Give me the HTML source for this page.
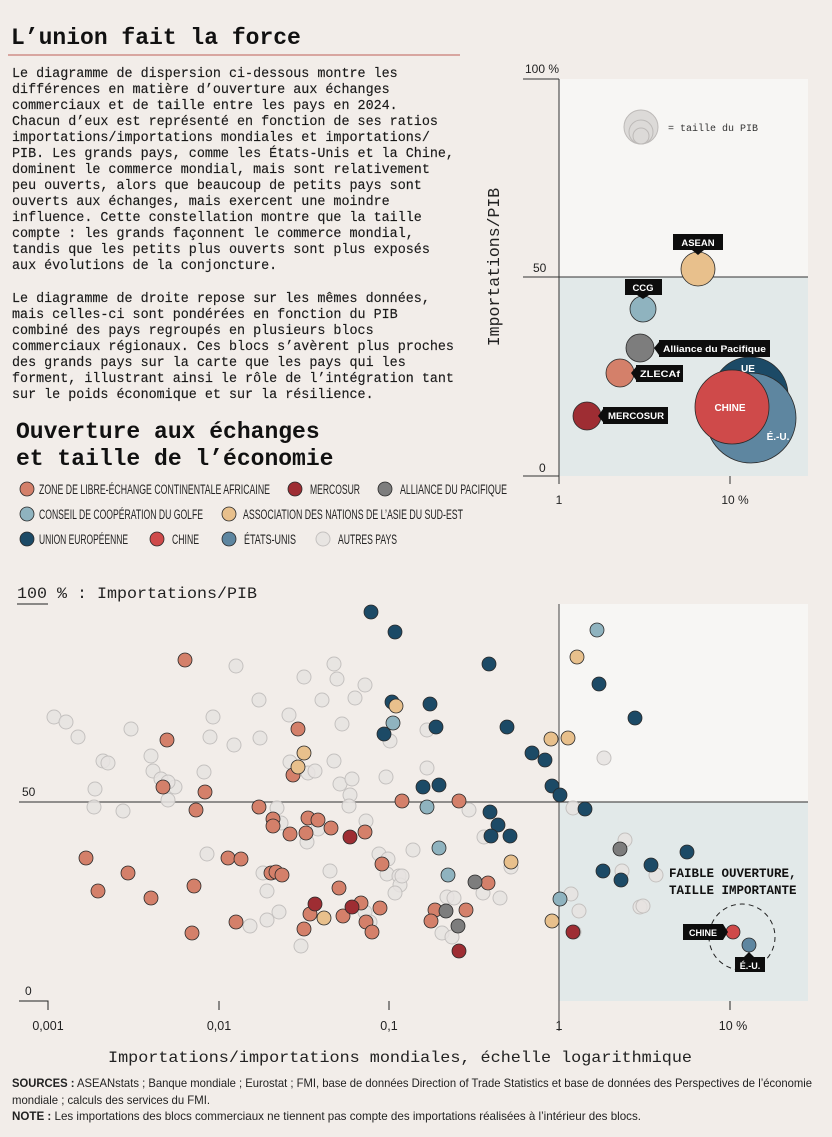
<!DOCTYPE html>
<html><head><meta charset="utf-8"><style>
html,body{margin:0;padding:0;background:#f2ede9;}
svg{display:block}
.m{font-family:"Liberation Mono","DejaVu Sans Mono",monospace;}
.s{font-family:"Liberation Sans",sans-serif;}
.o{fill:#e6e3e1;stroke:#c4c1bf;stroke-width:1;fill-opacity:.85}
.c{stroke:#2a2a2a;stroke-width:.8}
.z{fill:#d4806a}.me{fill:#9e2d33}.pa{fill:#7d7d7d}.cc{fill:#8fb3bf}.as{fill:#e8c08c}.ue{fill:#1c4a66}.ch{fill:#cf4a4a}.us{fill:#5e86a0}
</style></head><body>
<svg width="832" height="1137" viewBox="0 0 832 1137" xmlns="http://www.w3.org/2000/svg">
<rect width="832" height="1137" fill="#f2ede9"/>
<text x="11" y="44" class="m" font-size="23" font-weight="bold" fill="#111">L’union fait la force</text>
<line x1="8" y1="55" x2="460" y2="55" stroke="#cf8f88" stroke-width="1.5"/>
<g class="m" font-size="13.4" fill="#1a1a1a" stroke="#1a1a1a" stroke-width="0.15">
<text x="12" y="77">Le diagramme de dispersion ci-dessous montre les</text>
<text x="12" y="93">différences en matière d’ouverture aux échanges</text>
<text x="12" y="109">commerciaux et de taille entre les pays en 2024.</text>
<text x="12" y="125">Chacun d’eux est représenté en fonction de ses ratios</text>
<text x="12" y="141">importations/importations mondiales et importations/</text>
<text x="12" y="157">PIB. Les grands pays, comme les États-Unis et la Chine,</text>
<text x="12" y="173">dominent le commerce mondial, mais sont relativement</text>
<text x="12" y="189">peu ouverts, alors que beaucoup de petits pays sont</text>
<text x="12" y="205">ouverts aux échanges, mais exercent une moindre</text>
<text x="12" y="221">influence. Cette constellation montre que la taille</text>
<text x="12" y="237">compte : les grands façonnent le commerce mondial,</text>
<text x="12" y="253">tandis que les petits plus ouverts sont plus exposés</text>
<text x="12" y="269">aux évolutions de la conjoncture.</text>
<text x="12" y="302">Le diagramme de droite repose sur les mêmes données,</text>
<text x="12" y="318">mais celles-ci sont pondérées en fonction du PIB</text>
<text x="12" y="334">combiné des pays regroupés en plusieurs blocs</text>
<text x="12" y="350">commerciaux régionaux. Ces blocs s’avèrent plus proches</text>
<text x="12" y="366">des grands pays sur la carte que les pays qui les</text>
<text x="12" y="382">forment, illustrant ainsi le rôle de l’intégration tant</text>
<text x="12" y="398">sur le poids économique et sur la résilience.</text>
</g>

<!-- top right chart -->
<rect x="559" y="79" width="249" height="198" fill="#f7f6f4"/>
<rect x="559" y="277" width="249" height="199" fill="#e2e9e9"/>
<line x1="523" y1="79" x2="559" y2="79" stroke="#333"/>
<line x1="523" y1="476" x2="559" y2="476" stroke="#333"/>
<line x1="523" y1="277" x2="808" y2="277" stroke="#333"/>
<line x1="559" y1="79" x2="559" y2="484" stroke="#333"/>
<line x1="730" y1="476" x2="730" y2="484" stroke="#333"/>
<text x="525" y="73" class="s" font-size="12" fill="#222">100 %</text>
<text x="533" y="272" class="s" font-size="12" fill="#222">50</text>
<text x="539" y="472" class="s" font-size="12" fill="#222">0</text>
<text x="559" y="504" class="s" font-size="12" fill="#222" text-anchor="middle">1</text>
<text x="735" y="504" class="s" font-size="12" fill="#222" text-anchor="middle">10 %</text>
<text transform="translate(499,267) rotate(-90)" class="m" font-size="16.5" fill="#222" text-anchor="middle">Importations/PIB</text>
<g fill="#dcdad8" stroke="#bdbab8" stroke-width="1">
<circle cx="641" cy="127" r="17"/><circle cx="641" cy="132" r="12"/><circle cx="641" cy="136" r="8"/>
</g>
<text x="668" y="131" class="m" font-size="10" fill="#333">= taille du PIB</text>
<circle cx="750" cy="395" r="38" class="c ue"/>
<circle cx="751" cy="418" r="45" class="c us"/>
<circle cx="732" cy="407" r="37" class="c ch"/>
<g class="s" font-weight="bold" fill="#fff" font-size="10" text-anchor="middle">
<text x="748" y="372">UE</text><text x="730" y="411">CHINE</text><text x="778" y="440">É.-U.</text></g>
<circle cx="698" cy="269" r="17" class="c as"/>
<circle cx="643" cy="309" r="13" class="c cc"/>
<circle cx="640" cy="348" r="14" class="c pa"/>
<circle cx="620" cy="373" r="14" class="c z"/>
<circle cx="587" cy="416" r="14" class="c me"/>
<g fill="#0d0d0d">
<rect x="673" y="234" width="50" height="16"/><path d="M692 250 L698 255 L704 250Z"/>
<rect x="625" y="279" width="37" height="16"/><path d="M637 295 L643 299 L649 295Z"/>
<rect x="659" y="340" width="111" height="17"/><path d="M659 342 L654 348 L659 355Z"/>
<rect x="636" y="365" width="47" height="17"/><path d="M636 367 L631 373 L636 380Z"/>
<rect x="603" y="407" width="65" height="17"/><path d="M603 409 L598 416 L603 422Z"/>
</g>
<g class="s" font-weight="bold" fill="#fff" font-size="9.5">
<text x="698" y="246" text-anchor="middle">ASEAN</text>
<text x="643" y="291" text-anchor="middle">CCG</text>
<text x="663" y="352" textLength="103" lengthAdjust="spacingAndGlyphs">Alliance du Pacifique</text>
<text x="640" y="377" textLength="40" lengthAdjust="spacingAndGlyphs">ZLECAf</text>
<text x="608" y="419" textLength="56" lengthAdjust="spacingAndGlyphs">MERCOSUR</text>
</g>

<!-- heading + legend -->
<text x="16" y="438" class="m" font-size="23" font-weight="bold" fill="#111">Ouverture aux échanges</text>
<text x="16" y="465" class="m" font-size="23" font-weight="bold" fill="#111">et taille de l’économie</text>
<g class="s" font-size="13.5" fill="#222">
<circle cx="27" cy="489" r="7" class="c z"/><text x="39" y="494" textLength="231" lengthAdjust="spacingAndGlyphs">ZONE DE LIBRE-ÉCHANGE CONTINENTALE AFRICAINE</text>
<circle cx="295" cy="489" r="7" class="c me"/><text x="310" y="494" textLength="50" lengthAdjust="spacingAndGlyphs">MERCOSUR</text>
<circle cx="385" cy="489" r="7" class="c pa"/><text x="400" y="494" textLength="107" lengthAdjust="spacingAndGlyphs">ALLIANCE DU PACIFIQUE</text>
<circle cx="27" cy="514" r="7" class="c cc"/><text x="39" y="519" textLength="164" lengthAdjust="spacingAndGlyphs">CONSEIL DE COOPÉRATION DU GOLFE</text>
<circle cx="229" cy="514" r="7" class="c as"/><text x="243" y="519" textLength="220" lengthAdjust="spacingAndGlyphs">ASSOCIATION DES NATIONS DE L’ASIE DU SUD-EST</text>
<circle cx="27" cy="539" r="7" class="c ue"/><text x="39" y="544" textLength="89" lengthAdjust="spacingAndGlyphs">UNION EUROPÉENNE</text>
<circle cx="157" cy="539" r="7" class="c ch"/><text x="172" y="544" textLength="27" lengthAdjust="spacingAndGlyphs">CHINE</text>
<circle cx="229" cy="539" r="7" class="c us"/><text x="244" y="544" textLength="52" lengthAdjust="spacingAndGlyphs">ÉTATS-UNIS</text>
<circle cx="323" cy="539" r="7" class="o"/><text x="338" y="544" textLength="59" lengthAdjust="spacingAndGlyphs">AUTRES PAYS</text>
</g>

<!-- bottom chart -->
<text x="17" y="598" class="m" font-size="16" fill="#222" textLength="240" lengthAdjust="spacingAndGlyphs">100 % : Importations/PIB</text>
<line x1="17" y1="604" x2="48" y2="604" stroke="#222"/>
<rect x="559" y="604" width="249" height="198" fill="#f7f6f4"/>
<rect x="559" y="802" width="249" height="199" fill="#e2e9e9"/>
<line x1="19" y1="802" x2="808" y2="802" stroke="#555" stroke-width="1.2"/>
<line x1="559" y1="604" x2="559" y2="1031" stroke="#444"/>
<text x="22" y="796" class="s" font-size="12" fill="#222">50</text>
<text x="25" y="995" class="s" font-size="12" fill="#222">0</text>
<path d="M19 1001 H48 V1010" fill="none" stroke="#222"/>
<g stroke="#222"><line x1="219" y1="1001" x2="219" y2="1010"/><line x1="389" y1="1001" x2="389" y2="1010"/><line x1="730" y1="1001" x2="730" y2="1010"/></g>
<g class="s" font-size="12.5" fill="#222" text-anchor="middle">
<text x="48" y="1030">0,001</text><text x="219" y="1030">0,01</text><text x="389" y="1030">0,1</text><text x="559" y="1030">1</text><text x="733" y="1030">10 %</text></g>
<text x="400" y="1062" class="m" font-size="16" fill="#222" text-anchor="middle" textLength="584" lengthAdjust="spacingAndGlyphs">Importations/importations mondiales, échelle logarithmique</text>

<g class="o" >
<circle cx="54" cy="717" r="7"/><circle cx="66" cy="722" r="7"/><circle cx="78" cy="737" r="7"/><circle cx="131" cy="729" r="7"/>
<circle cx="103" cy="761" r="7"/><circle cx="108" cy="763" r="7"/><circle cx="95" cy="789" r="7"/><circle cx="94" cy="807" r="7"/>
<circle cx="123" cy="811" r="7"/><circle cx="151" cy="756" r="7"/><circle cx="153" cy="771" r="7"/><circle cx="161" cy="779" r="7"/>
<circle cx="175" cy="787" r="7"/><circle cx="168" cy="800" r="7"/><circle cx="236" cy="666" r="7"/><circle cx="213" cy="717" r="7"/>
<circle cx="210" cy="737" r="7"/><circle cx="234" cy="745" r="7"/><circle cx="204" cy="772" r="7"/><circle cx="259" cy="700" r="7"/>
<circle cx="260" cy="738" r="7"/><circle cx="304" cy="677" r="7"/><circle cx="334" cy="664" r="7"/><circle cx="337" cy="679" r="7"/>
<circle cx="365" cy="685" r="7"/><circle cx="322" cy="700" r="7"/><circle cx="355" cy="698" r="7"/><circle cx="289" cy="715" r="7"/>
<circle cx="342" cy="724" r="7"/><circle cx="290" cy="762" r="7"/><circle cx="308" cy="773" r="7"/><circle cx="315" cy="771" r="7"/>
<circle cx="334" cy="761" r="7"/><circle cx="340" cy="784" r="7"/><circle cx="352" cy="779" r="7"/><circle cx="350" cy="795" r="7"/>
<circle cx="349" cy="806" r="7"/><circle cx="386" cy="777" r="7"/><circle cx="390" cy="741" r="7"/><circle cx="277" cy="808" r="7"/>
<circle cx="281" cy="823" r="7"/><circle cx="318" cy="829" r="7"/><circle cx="307" cy="842" r="7"/><circle cx="366" cy="821" r="7"/>
<circle cx="207" cy="854" r="7"/><circle cx="263" cy="873" r="7"/><circle cx="267" cy="891" r="7"/><circle cx="330" cy="871" r="7"/>
<circle cx="379" cy="854" r="7"/><circle cx="388" cy="859" r="7"/><circle cx="387" cy="874" r="7"/><circle cx="399" cy="876" r="7"/>
<circle cx="400" cy="885" r="7"/><circle cx="395" cy="893" r="7"/><circle cx="413" cy="850" r="7"/><circle cx="279" cy="912" r="7"/>
<circle cx="267" cy="920" r="7"/><circle cx="250" cy="926" r="7"/><circle cx="301" cy="946" r="7"/><circle cx="365" cy="912" r="7"/>
<circle cx="370" cy="922" r="7"/><circle cx="427" cy="730" r="7"/><circle cx="427" cy="768" r="7"/><circle cx="469" cy="810" r="7"/>
<circle cx="402" cy="876" r="7"/><circle cx="484" cy="837" r="7"/><circle cx="511" cy="867" r="7"/><circle cx="483" cy="893" r="7"/>
<circle cx="500" cy="898" r="7"/><circle cx="447" cy="897" r="7"/><circle cx="454" cy="898" r="7"/><circle cx="442" cy="933" r="7"/>
<circle cx="452" cy="937" r="7"/><circle cx="573" cy="808" r="7"/><circle cx="604" cy="758" r="7"/><circle cx="625" cy="840" r="7"/>
<circle cx="622" cy="871" r="7"/><circle cx="656" cy="875" r="7"/><circle cx="640" cy="907" r="7"/><circle cx="643" cy="906" r="7"/>
<circle cx="571" cy="894" r="7"/><circle cx="579" cy="911" r="7"/><circle cx="574" cy="932" r="7"/><circle cx="168" cy="782" r="7"/>
</g>
<g class="c">
<g class="z">
<circle cx="185" cy="660" r="7"/><circle cx="167" cy="740" r="7"/><circle cx="163" cy="787" r="7"/><circle cx="205" cy="792" r="7"/>
<circle cx="196" cy="810" r="7"/><circle cx="298" cy="729" r="7"/><circle cx="293" cy="775" r="7"/><circle cx="259" cy="807" r="7"/>
<circle cx="273" cy="819" r="7"/><circle cx="273" cy="826" r="7"/><circle cx="290" cy="834" r="7"/><circle cx="308" cy="818" r="7"/>
<circle cx="318" cy="820" r="7"/><circle cx="331" cy="828" r="7"/><circle cx="306" cy="833" r="7"/><circle cx="365" cy="832" r="7"/>
<circle cx="402" cy="801" r="7"/><circle cx="86" cy="858" r="7"/><circle cx="128" cy="873" r="7"/><circle cx="98" cy="891" r="7"/>
<circle cx="151" cy="898" r="7"/><circle cx="194" cy="886" r="7"/><circle cx="192" cy="933" r="7"/><circle cx="228" cy="858" r="7"/>
<circle cx="241" cy="859" r="7"/><circle cx="271" cy="873" r="7"/><circle cx="276" cy="872" r="7"/><circle cx="282" cy="875" r="7"/>
<circle cx="236" cy="922" r="7"/><circle cx="339" cy="888" r="7"/><circle cx="361" cy="903" r="7"/><circle cx="310" cy="914" r="7"/>
<circle cx="343" cy="916" r="7"/><circle cx="366" cy="922" r="7"/><circle cx="372" cy="932" r="7"/><circle cx="304" cy="929" r="7"/>
<circle cx="380" cy="908" r="7"/><circle cx="382" cy="864" r="7"/><circle cx="459" cy="801" r="7"/><circle cx="488" cy="883" r="7"/>
<circle cx="435" cy="910" r="7"/><circle cx="431" cy="921" r="7"/><circle cx="466" cy="910" r="7"/>
</g>
<g class="me"><circle cx="350" cy="837" r="7"/><circle cx="315" cy="904" r="7"/><circle cx="352" cy="907" r="7"/><circle cx="573" cy="932" r="7"/><circle cx="459" cy="951" r="7"/></g>
<g class="pa"><circle cx="475" cy="882" r="7"/><circle cx="446" cy="911" r="7"/><circle cx="458" cy="926" r="7"/><circle cx="620" cy="849" r="7"/></g>
<g class="as"><circle cx="304" cy="753" r="7"/><circle cx="298" cy="767" r="7"/><circle cx="324" cy="918" r="7"/><circle cx="551" cy="739" r="7"/><circle cx="568" cy="738" r="7"/><circle cx="577" cy="657" r="7"/><circle cx="511" cy="862" r="7"/><circle cx="552" cy="921" r="7"/></g>
<g class="ue">
<circle cx="371" cy="612" r="7"/><circle cx="395" cy="632" r="7"/><circle cx="392" cy="702" r="7"/><circle cx="384" cy="734" r="7"/>
<circle cx="489" cy="664" r="7"/><circle cx="430" cy="704" r="7"/><circle cx="436" cy="727" r="7"/><circle cx="507" cy="727" r="7"/>
<circle cx="532" cy="753" r="7"/><circle cx="545" cy="760" r="7"/><circle cx="552" cy="786" r="7"/><circle cx="560" cy="795" r="7"/>
<circle cx="585" cy="809" r="7"/><circle cx="423" cy="787" r="7"/><circle cx="439" cy="785" r="7"/><circle cx="490" cy="812" r="7"/>
<circle cx="498" cy="825" r="7"/><circle cx="491" cy="836" r="7"/><circle cx="510" cy="836" r="7"/><circle cx="599" cy="684" r="7"/>
<circle cx="635" cy="718" r="7"/><circle cx="603" cy="871" r="7"/><circle cx="621" cy="880" r="7"/><circle cx="651" cy="865" r="7"/><circle cx="687" cy="852" r="7"/>
</g>
<g class="as"><circle cx="396" cy="706" r="7"/></g>
<g class="cc"><circle cx="393" cy="723" r="7"/><circle cx="427" cy="807" r="7"/><circle cx="439" cy="848" r="7"/><circle cx="448" cy="875" r="7"/><circle cx="560" cy="899" r="7"/><circle cx="597" cy="630" r="7"/></g>
<circle cx="733" cy="932" r="7" class="ch"/><circle cx="749" cy="945" r="7" class="us"/>
</g>
<circle cx="742" cy="937" r="33" fill="none" stroke="#222" stroke-dasharray="5,4"/>
<g fill="#0d0d0d"><rect x="683" y="924" width="40" height="16"/><path d="M723 924 L728 932 L723 940Z"/>
<rect x="735" y="957" width="30" height="15"/><path d="M744 957 L749 952 L754 957Z"/></g>
<g class="s" font-weight="bold" fill="#fff" font-size="9">
<text x="703" y="936" text-anchor="middle">CHINE</text><text x="750" y="969" text-anchor="middle">É.-U.</text></g>
<g class="m" font-weight="bold" font-size="12.5" fill="#111">
<text x="669" y="877">FAIBLE OUVERTURE,</text><text x="669" y="894">TAILLE IMPORTANTE</text></g>

<g class="s" font-size="12" fill="#222">
<text x="12" y="1087" textLength="800" lengthAdjust="spacingAndGlyphs"><tspan font-weight="bold">SOURCES :</tspan> ASEANstats ; Banque mondiale ; Eurostat ; FMI, base de données Direction of Trade Statistics et base de données des Perspectives de l’économie</text>
<text x="12" y="1104" textLength="198" lengthAdjust="spacingAndGlyphs">mondiale ; calculs des services du FMI.</text>
<text x="12" y="1120" textLength="629" lengthAdjust="spacingAndGlyphs"><tspan font-weight="bold">NOTE :</tspan> Les importations des blocs commerciaux ne tiennent pas compte des importations réalisées à l’intérieur des blocs.</text>
</g>
</svg>
</body></html>
